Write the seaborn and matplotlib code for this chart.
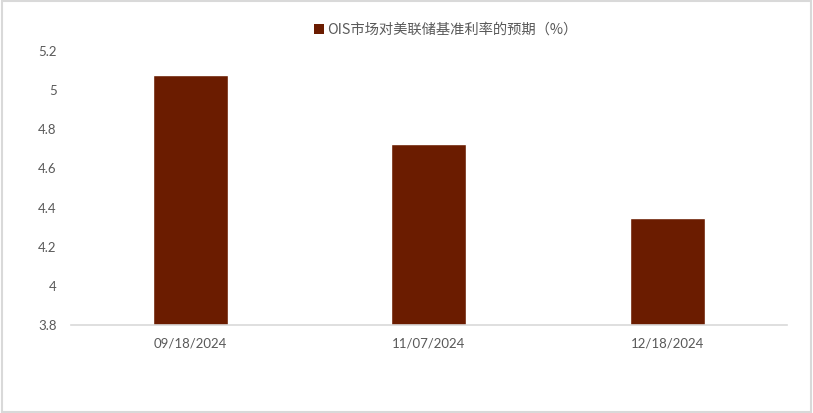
import pandas as pd
import numpy as np
import matplotlib.pyplot as plt
import seaborn as sns
from matplotlib.patches import Patch

# Data
dates = ["09/18/2024", "11/07/2024", "12/18/2024"]
rates = [5.077, 4.727, 4.347]
series_name = "OIS市场对美联储基准利率的预期（%）"

bar_color = "#6B1C00"
text_color = "#595959"
line_color = "#D9D9D9"

sns.set_theme(style="white")
plt.rcParams["font.family"] = ["Lato", "Noto Sans CJK SC", "DejaVu Sans"]

df = pd.DataFrame({"date": dates, "rate": rates})

fig = plt.figure(figsize=(8.13, 4.13), dpi=100)
ax = fig.add_axes([70.7 / 813, 1 - 325 / 413, 716 / 813, 274 / 413])

sns.barplot(data=df, x="date", y="rate", color=bar_color, width=0.314,
            saturation=1, ax=ax)

ax.set_ylim(3.8, 5.2)
ax.set_yticks(np.arange(3.8, 5.21, 0.2))
ax.set_yticklabels(["3.8", "4", "4.2", "4.4", "4.6", "4.8", "5", "5.2"])
ax.set_xlabel("")
ax.set_ylabel("")
ax.tick_params(axis="both", length=0, labelsize=9.5, colors=text_color)
ax.tick_params(axis="y", pad=10)
ax.tick_params(axis="x", pad=9)

for side in ["top", "right", "left"]:
    ax.spines[side].set_visible(False)
ax.spines["bottom"].set_color(line_color)
ax.spines["bottom"].set_linewidth(1.2)

handle = Patch(facecolor=bar_color, edgecolor="none")
fig.legend([handle], [series_name], loc="center", bbox_to_anchor=(446 / 813, 1 - 30 / 413),
           frameon=False, handlelength=0.7, handleheight=0.7,
           handletextpad=0.2, labelcolor=text_color,
           prop={"family": ["Noto Sans CJK SC", "DejaVu Sans"], "size": 10.3})

# outer chart border
fig.patches.append(plt.Rectangle((0.002, 0.003), 0.996, 0.994, transform=fig.transFigure,
                                 fill=False, edgecolor=line_color, linewidth=1.5))

fig.savefig("out.png", dpi=100)
